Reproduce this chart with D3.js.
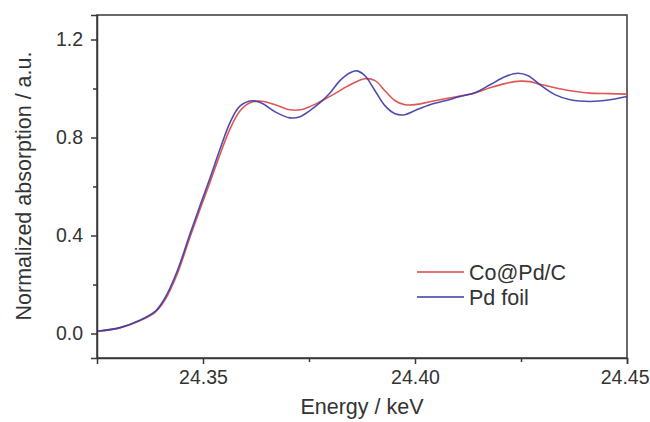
<!DOCTYPE html>
<html>
<head>
<meta charset="utf-8">
<script src="https://cdn.jsdelivr.net/npm/d3@7/dist/d3.min.js"></script>
<style>
  html, body { margin: 0; padding: 0; background: #fff; }
  svg { display: block; font-family: "Liberation Sans", Arial, sans-serif; }
</style>
</head>
<body>
<svg id="chart" width="650" height="422"></svg>
<script>
// Energy (keV) sample points for each series
const energyPd = [24.3250, 24.3304, 24.3351, 24.3387, 24.3410, 24.3439, 24.3469, 24.3493, 24.3517, 24.3540,
  24.3564, 24.3587, 24.3616, 24.3639, 24.3670, 24.3705, 24.3729, 24.3752, 24.3776, 24.3800,
  24.3823, 24.3847, 24.3863, 24.3882, 24.3906, 24.3929, 24.3953, 24.3976, 24.4000, 24.4035,
  24.4071, 24.4106, 24.4142, 24.4177, 24.4212, 24.4243, 24.4267, 24.4295, 24.4330, 24.4366,
  24.4413, 24.4460, 24.4500];
const pdFoil = [0.009, 0.024, 0.054, 0.090, 0.144, 0.254, 0.405, 0.522, 0.637, 0.752,
  0.862, 0.928, 0.950, 0.940, 0.905, 0.880, 0.885, 0.910, 0.942, 0.983,
  1.032, 1.064, 1.072, 1.052, 0.990, 0.930, 0.897, 0.893, 0.910, 0.934,
  0.950, 0.967, 0.983, 1.015, 1.048, 1.062, 1.052, 1.015, 0.975, 0.954,
  0.947, 0.954, 0.967];

const energyCo = [24.3250, 24.3304, 24.3351, 24.3387, 24.3410, 24.3439, 24.3469, 24.3493, 24.3517, 24.3540,
  24.3564, 24.3587, 24.3611, 24.3639, 24.3670, 24.3705, 24.3729, 24.3752, 24.3776, 24.3811,
  24.3847, 24.3882, 24.3906, 24.3929, 24.3953, 24.3976, 24.4000, 24.4035, 24.4071, 24.4106,
  24.4142, 24.4177, 24.4212, 24.4248, 24.4271, 24.4295, 24.4330, 24.4366, 24.4413, 24.4460,
  24.4500];
const coPdC = [0.009, 0.023, 0.052, 0.086, 0.136, 0.242, 0.392, 0.507, 0.620, 0.730,
  0.836, 0.908, 0.942, 0.948, 0.934, 0.913, 0.913, 0.926, 0.946, 0.979,
  1.015, 1.040, 1.032, 0.991, 0.950, 0.934, 0.934, 0.946, 0.958, 0.969,
  0.983, 1.003, 1.020, 1.030, 1.028, 1.017, 1.003, 0.991, 0.981, 0.979,
  0.977];

const xTicks = [24.35, 24.40, 24.45];
const xMinor = [24.375, 24.425];
const yTicks = [0.0, 0.4, 0.8, 1.2];
const yMinor = [0.2, 0.6, 1.0];
const seriesNames = ["Co@Pd/C", "Pd foil"];
const seriesColors = ["#dd4444", "#3a3aa8"];

const svg = d3.select("#chart");
const margin = {left: 97, right: 23, top: 15, bottom: 64};
const W = 650, H = 422;
const x = d3.scaleLinear().domain([24.325, 24.45]).range([margin.left, W - margin.right]);
const y = d3.scaleLinear().domain([-0.1, 1.3]).range([H - margin.bottom, margin.top]);

const axisColor = "#383838";

// frame (top and right)
svg.append("rect")
  .attr("x", x.range()[0]).attr("y", y.range()[1])
  .attr("width", x.range()[1] - x.range()[0]).attr("height", y.range()[0] - y.range()[1])
  .attr("fill", "none").attr("stroke", axisColor).attr("stroke-width", 1.5);

// lines
const line = (xs) => d3.line().x((d, i) => x(xs[i])).y(d => y(d)).curve(d3.curveCatmullRom.alpha(0.5));
const g = svg.append("g");
g.append("path").datum(coPdC).attr("d", line(energyCo))
  .attr("fill", "none").attr("stroke", seriesColors[0]).attr("stroke-width", 1.6).attr("stroke-opacity", 0.9);
g.append("path").datum(pdFoil).attr("d", line(energyPd))
  .attr("fill", "none").attr("stroke", seriesColors[1]).attr("stroke-width", 1.6).attr("stroke-opacity", 0.9);

// x axis
const xAx = svg.append("g").attr("transform", `translate(0,${y.range()[0]})`)
  .call(d3.axisBottom(x).tickValues(xTicks).tickFormat(d3.format(".2f")).tickSize(6).tickPadding(6));
svg.append("g").attr("transform", `translate(0,${y.range()[0]})`)
  .call(d3.axisBottom(x).tickValues(xMinor).tickFormat("").tickSize(4))
  .call(s => s.select(".domain").remove());

// y axis
svg.append("g").attr("transform", `translate(${x.range()[0]},0)`)
  .call(d3.axisLeft(y).tickValues(yTicks).tickFormat(d3.format(".1f")).tickSize(6).tickPadding(8));
svg.append("g").attr("transform", `translate(${x.range()[0]},0)`)
  .call(d3.axisLeft(y).tickValues(yMinor).tickFormat("").tickSize(4))
  .call(s => s.select(".domain").remove());

svg.selectAll(".domain").attr("stroke", axisColor).attr("stroke-width", 1.5);
svg.selectAll(".tick line").attr("stroke", axisColor).attr("stroke-width", 1.5);
svg.selectAll(".tick text").attr("fill", "#333").attr("font-size", 19.5).attr("font-family", "Liberation Sans, Arial, sans-serif");
// keep the last x label inside the picture
xAx.selectAll(".tick text").filter(d => d === 24.45).attr("text-anchor", "end").attr("x", 22);

// axis titles
svg.append("text").attr("x", 362).attr("y", 414)
  .attr("text-anchor", "middle").attr("font-size", 21.5).attr("fill", "#333").text("Energy / keV");
svg.append("text").attr("transform", `translate(31,186) rotate(-90)`)
  .attr("text-anchor", "middle").attr("font-size", 21.5).attr("fill", "#333").text("Normalized absorption / a.u.");

// legend
const leg = svg.append("g");
seriesNames.forEach((name, i) => {
  const ly = 272 + i * 25;
  leg.append("line").attr("x1", 417).attr("x2", 464).attr("y1", ly).attr("y2", ly)
    .attr("stroke", seriesColors[i]).attr("stroke-width", 1.6);
  leg.append("text").attr("x", 469).attr("y", ly + 8).attr("font-size", 21.5).attr("fill", "#333").text(name);
});
</script>
</body>
</html>
